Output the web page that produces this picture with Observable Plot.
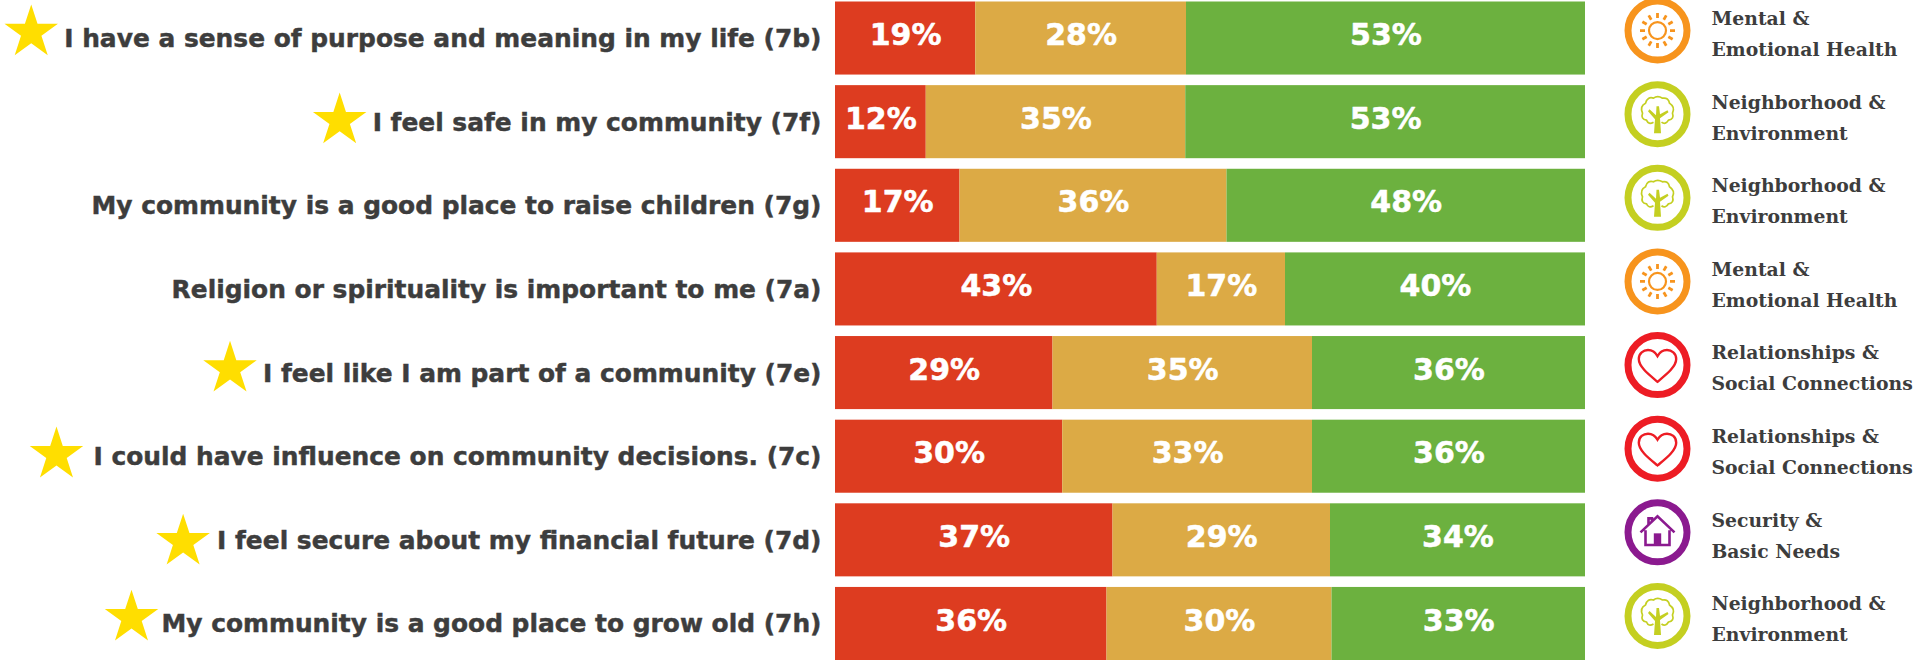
<!DOCTYPE html>
<html><head><meta charset="utf-8">
<script src="https://cdn.jsdelivr.net/npm/d3@7"></script>
<script src="https://cdn.jsdelivr.net/npm/@observablehq/plot@0.6"></script>
<style>html,body{margin:0;padding:0;background:#fff;overflow:hidden}svg{display:block}
g[aria-label="y-axis tick label"] text{stroke:#3d3d3d;stroke-width:.45px}</style>
</head><body><div id="chart"></div>
<script>
const statements = [
  "I have a sense of purpose and meaning in my life (7b)",
  "I feel safe in my community (7f)",
  "My community is a good place to raise children (7g)",
  "Religion or spirituality is important to me (7a)",
  "I feel like I am part of a community (7e)",
  "I could have influence on community decisions. (7c)",
  "I feel secure about my financial future (7d)",
  "My community is a good place to grow old (7h)"
];
// printed percentages
const disagreeLabels = [19, 12, 17, 43, 29, 30, 37, 36];
const neutralLabels  = [28, 35, 36, 17, 35, 33, 29, 30];
const agreeLabels    = [53, 53, 48, 40, 36, 36, 34, 33];
// bar lengths
const disagree = [18.7, 12.1, 16.6, 42.9, 29.0, 30.3, 37.0, 36.2];
const neutral  = [28.1, 34.6, 35.6, 17.1, 34.6, 33.3, 29.0, 30.0];
const agree    = [53.2, 53.3, 47.8, 40.0, 36.4, 36.4, 34.0, 33.8];
const starred  = [true, true, false, false, true, true, true, true];
const themes = ["Mental &\nEmotional Health","Neighborhood &\nEnvironment","Neighborhood &\nEnvironment","Mental &\nEmotional Health","Relationships &\nSocial Connections","Relationships &\nSocial Connections","Security &\nBasic Needs","Neighborhood &\nEnvironment"];
const segments = ["Disagree","Neutral","Agree"];
const segmentColors = ["#dd3c20","#dcaa45","#6cb13f"];
const themeNames = ["Mental","Neighborhood","Relationships","Security"];
const themeColors = ["#f7941d","#c4cf21","#ed1c24","#8b1a8f"];

const long = statements.flatMap((q,i)=>[[disagree,disagreeLabels],[neutral,neutralLabels],[agree,agreeLabels]].map(([arr,lab],j)=>({q,segment:segments[j],value:arr[i],label:lab[i]})));
const rows = statements.map((q,i)=>({q,star:starred[i],theme:themes[i],key:themes[i].split(" ")[0]}));

const LABEL_FONT = 24.9, LABEL_FAMILY = '"DejaVu Sans"';
const ctx = document.createElement("canvas").getContext("2d");
ctx.font = `bold ${LABEL_FONT}px ${LABEL_FAMILY}`;
const ML = 835, MR = 332, PAD = 14;
const pxPerUnit = 1917-ML-MR;
const starX = (q,gap) => -(PAD + ctx.measureText(q).width + gap)/pxPerUnit;

const unit = (fn)=>({draw(c,size){const k=Math.sqrt(size/Math.PI)/33;fn({
  M:(x,y)=>c.moveTo(x*k,y*k),L:(x,y)=>c.lineTo(x*k,y*k),Q:(a,b,x,y)=>c.quadraticCurveTo(a*k,b*k,x*k,y*k),
  C:(a,b,d,e,x,y)=>c.bezierCurveTo(a*k,b*k,d*k,e*k,x*k,y*k),Z:()=>c.closePath(),
  A:(x,y,r)=>{c.moveTo((x+r)*k,y*k);c.arc(x*k,y*k,r*k,0,2*Math.PI)}
});}});
const sunRing = unit(p=>p.A(0,0,8.5));
const sunRays = unit(p=>{for(let i=0;i<12;i++){const t=i*Math.PI/6;p.M(12.5*Math.cos(t),12.5*Math.sin(t));p.L(17.5*Math.cos(t),17.5*Math.sin(t));}});
const crown = unit(p=>{p.M(-4,8);p.Q(-9,11,-11,6);p.Q(-17,5,-15,-1);p.Q(-18,-8,-12,-11);p.Q(-10,-18,-4,-16);p.Q(0,-19,5,-16);p.Q(11,-17,12,-11);p.Q(18,-7,15,-1);p.Q(17,5,11,6);p.Q(8,11,4,8);});
const trunk = unit(p=>{p.M(-3.5,19);p.L(3.5,19);p.L(2.5,4);p.L(11,-2);p.L(10,-4);p.L(2.5,0);p.L(1.5,-8);p.L(-1,-8);p.L(-1.5,1);p.L(-8,-5);p.L(-9.5,-3);p.L(-2.5,5);p.Z();});
const heart = unit(p=>{p.M(0,16.7);p.C(-8,10,-18.7,2,-18.7,-6);p.C(-18.7,-12,-14,-15,-9.5,-15);p.C(-5,-15,-2,-12.5,0,-9);p.C(2,-12.5,5,-15,9.5,-15);p.C(14,-15,18.7,-12,18.7,-6);p.C(18.7,2,8,10,0,16.7);p.Z();});
const house = unit(p=>{p.M(-17,0);p.L(0,-16);p.L(17,0);p.M(-12,-2);p.L(-12,12.7);p.L(12,12.7);p.L(12,-2);p.M(-9,-8);p.L(-9,-14);p.L(-5.5,-14);p.L(-5.5,-11);});
const door = unit(p=>{p.M(-3.7,1);p.L(3.7,1);p.L(3.7,12.7);p.L(-3.7,12.7);p.Z();});

const ICON = {frameAnchor:"right", y:"q", dx:72, dy:-8};
const of = k => rows.filter(d=>d.key.startsWith(k));
const glyph = (k,symbol,color,extra) => Plot.dot(of(k),{...ICON,r:33,symbol,fill:"none",stroke:color,...extra});

// the stars sit a little unevenly next to their labels: row, gap to the label, lift from the row centre
const starMarks = [[0,33,-6],[1,33,-1.6],[4,33,-4.2],[5,37,-2],[6,34,1.4],[7,30,-6.2]].map(([i,gap,lift]) =>
  Plot.dot([rows[i]].filter(d=>d.star),{x:d=>starX(d.q,gap), y:"q", dy:lift, r:16.8, symbol:"star", fill:"#ffde00"}));

const plot = Plot.plot({
  width:1917, height:661,
  marginLeft:ML, marginRight:MR, marginTop:1.5, marginBottom:1,
  x:{domain:[0,1], axis:null},
  y:{domain:statements, paddingInner:0.1265, paddingOuter:0, round:false, label:null},
  color:{domain:segments, range:segmentColors},
  style:{background:"#fff"},
  marks:[
    Plot.barX(long, Plot.stackX({x:"value", y:"q", fill:"segment", offset:"normalize"})),
    Plot.text(long, Plot.stackX({x:"value", y:"q", text:d=>d.label+"%", offset:"normalize", z:"segment",
      fill:"#fff", stroke:"#fff", strokeWidth:0.5, fontSize:30, fontWeight:"bold", fontFamily:'"DejaVu Sans"', dy:-3})),
    Plot.axisY({anchor:"left", tickSize:0, tickPadding:PAD, label:null, fontSize:LABEL_FONT, fontWeight:"bold", fontFamily:LABEL_FAMILY, color:"#3d3d3d", dy:0.5}),
    ...starMarks,
    Plot.dot(rows,{...ICON, r:29.5, fill:"#fff", strokeWidth:7, stroke:d=>themeColors[themeNames.findIndex(n=>d.key.startsWith(n))]}),
    glyph("Mental",sunRing,themeColors[0],{strokeWidth:2.2}),
    glyph("Mental",sunRays,themeColors[0],{strokeWidth:2.8}),
    glyph("Neighborhood",crown,themeColors[1],{strokeWidth:1.7}),
    Plot.dot(of("Neighborhood"),{...ICON,r:33,symbol:trunk,fill:themeColors[1],stroke:"none"}),
    glyph("Relationships",heart,themeColors[2],{strokeWidth:2.4}),
    glyph("Security",house,themeColors[3],{strokeWidth:2.6}),
    Plot.dot(of("Security"),{...ICON,r:33,symbol:door,fill:themeColors[3],stroke:"none"}),
    Plot.text(rows,{frameAnchor:"right", y:"q", dx:126, dy:-8, text:"theme", textAnchor:"start", lineHeight:1.65,
      fontSize:18.8, fontWeight:"bold", fontFamily:'"DejaVu Serif"', fill:"#3d3d3d"})
  ]
});
document.getElementById("chart").append(plot);
</script></body></html>
